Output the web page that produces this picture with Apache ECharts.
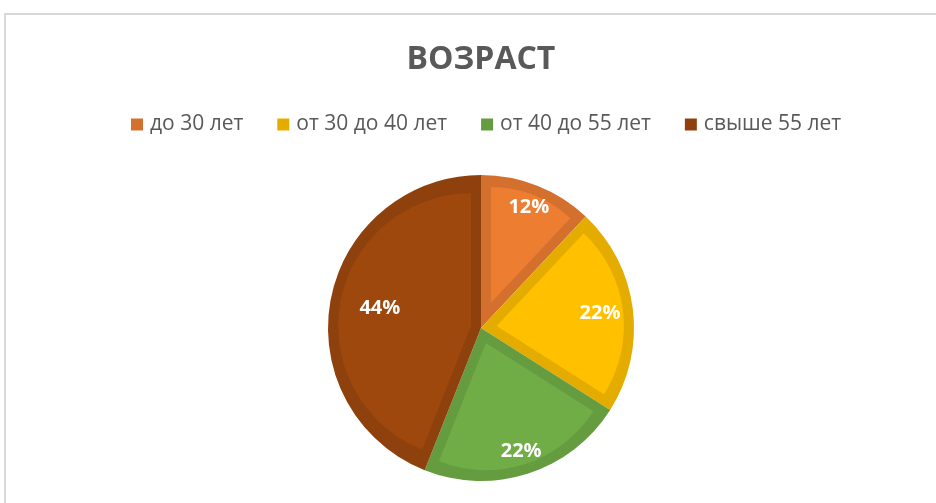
<!DOCTYPE html>
<html>
<head>
<meta charset="utf-8">
<script src="https://cdn.jsdelivr.net/npm/echarts@6/dist/echarts.min.js"></script>
<style>
  html, body { margin: 0; padding: 0; background: #fff; }
  #chart { width: 936px; height: 503px; }
</style>
</head>
<body>
<div id="chart"></div>
<script>
// данные
const categories = ['до 30 лет', 'от 30 до 40 лет', 'от 40 до 55 лет', 'свыше 55 лет'];
const shares = [12, 22, 22, 44];

const fillColors = ['#ED7D31', '#FFC000', '#70AD47', '#9E480E'];
const edgeColors = ['#D4702E', '#E5AC00', '#659C40', '#8E410D'];

const center = [481, 328];
const outerR = 153;
const edge = 10;

const total = shares.reduce((a, b) => a + b, 0);

const chart = echarts.init(document.getElementById('chart'));

// тёмная подложка — полный круг
const baseSeries = {
    type: 'pie',
    center: center,
    radius: [0, outerR],
    startAngle: 90,
    clockwise: true,
    silent: true,
    label: { show: false },
    labelLine: { show: false },
    data: categories.map((name, i) => ({
        name: name,
        value: shares[i],
        itemStyle: { color: edgeColors[i] }
    }))
};

// светлая заливка каждого сектора, сдвинутая внутрь на ширину каймы
const insetSeries = categories.map((name, k) => {
    const half = Math.PI * shares[k] / total;
    const shift = edge / Math.sin(half);
    return {
        type: 'pie',
        center: center,
        radius: [0, outerR - edge - shift],
        startAngle: 90,
        clockwise: true,
        silent: true,
        selectedMode: 'multiple',
        selectedOffset: shift,
        label: { show: false },
        labelLine: { show: false },
        emphasis: { disabled: true },
        data: categories.map((n, i) => ({
            name: n,
            value: shares[i],
            selected: i === k,
            itemStyle: { color: i === k ? fillColors[i] : 'transparent' }
        }))
    };
});

// подписи процентов
function labelSeries(radius, shown) {
    return {
        type: 'pie',
        center: center,
        radius: radius,
        startAngle: 90,
        clockwise: true,
        silent: true,
        itemStyle: { color: 'transparent' },
        emphasis: { disabled: true },
        labelLine: { show: false },
        label: {
            show: true,
            position: 'inside',
            formatter: '{c}%',
            color: '#fff',
            fontSize: 20,
            fontWeight: 'bold',
            fontFamily: 'Open Sans'
        },
        data: categories.map((n, i) => ({
            name: n,
            value: shares[i],
            label: { show: shown.includes(i) }
        }))
    };
}

chart.setOption({
    animation: false,
    backgroundColor: '#fff',
    graphic: [{
        type: 'rect',
        z: -10,
        shape: { x: 5, y: 14, width: 940, height: 500 },
        style: { fill: 'none', stroke: '#d9d9d9', lineWidth: 2 }
    }],
    title: {
        text: 'ВОЗРАСТ',
        left: 476,
        textAlign: 'center',
        top: 39,
        textStyle: {
            color: '#595959',
            fontSize: 32,
            fontWeight: 'bold',
            fontFamily: 'Open Sans'
        }
    },
    legend: {
        data: categories,
        top: 114,
        left: 131,
        padding: 0,
        itemWidth: 12,
        itemHeight: 12,
        itemGap: 34,
        icon: 'rect',
        textStyle: {
            color: '#595959',
            fontSize: 21,
            fontFamily: 'Open Sans',
            padding: [0, 0, 0, 2]
        }
    },
    series: [baseSeries]
        .concat(insetSeries)
        .concat([
            labelSeries([101, outerR], [0, 2]),
            labelSeries([81, outerR], [1]),
            labelSeries([47, outerR], [3])
        ])
});
</script>
</body>
</html>
